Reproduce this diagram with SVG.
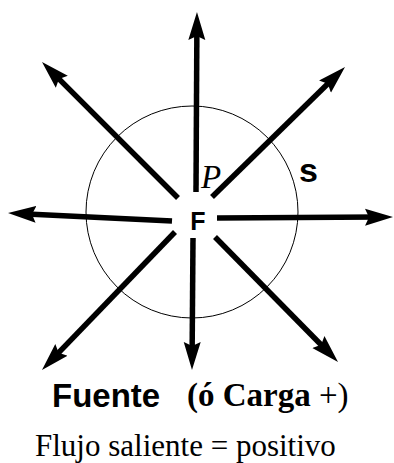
<svg xmlns="http://www.w3.org/2000/svg" width="394" height="463" viewBox="0 0 394 463">
<style>
.arrow{stroke:#000;stroke-width:5.5;fill:none;marker-end:url(#head)}
.sans{font-family:"Liberation Sans",Arial,sans-serif;font-weight:bold;fill:#000}
.serif{font-family:"Liberation Serif","Times New Roman",serif;fill:#000}
</style>
<defs>
<marker id="head" markerUnits="userSpaceOnUse" markerWidth="30" markerHeight="20" viewBox="0 -10 30 20" refX="14" refY="0" orient="auto">
<path d="M28,0 L0,-8.5 L4,0 L0,8.5 Z" fill="#000"/>
</marker>
</defs>
<rect width="394" height="463" fill="#fff"/>
<g id="surface-s">
<circle cx="192" cy="212" r="106" fill="none" stroke="#000" stroke-width="1"/>
</g>
<g id="connectors">
<line class="arrow" x1="196" y1="192" x2="196.9" y2="26"/>
<line class="arrow" x1="193" y1="238" x2="192.1" y2="356"/>
<line class="arrow" x1="172" y1="221" x2="22" y2="213.7"/>
<line class="arrow" x1="217" y1="218" x2="379" y2="217.1"/>
<line class="arrow" x1="178" y1="198" x2="51.9" y2="71.9"/>
<line class="arrow" x1="212" y1="197" x2="335" y2="76.8"/>
<line class="arrow" x1="175" y1="232" x2="51.7" y2="359.9"/>
<line class="arrow" x1="215" y1="237" x2="328.2" y2="352"/>
</g>
<g id="node-F">
<text class="sans" x="198" y="230" font-size="25" text-anchor="middle">F</text>
</g>
<g id="label-P">
<text class="serif" x="201" y="188" font-size="33" font-style="italic">P</text>
</g>
<g id="label-s">
<text class="sans" x="299" y="182" font-size="34">s</text>
</g>
<g id="caption">
<text class="sans" x="52" y="407" font-size="33">Fuente</text>
<text class="serif" x="187" y="406" font-size="33"><tspan font-weight="bold">(ó Carga </tspan>+)</text>
<text class="serif" x="35" y="456" font-size="31">Flujo saliente = positivo</text>
</g>
</svg>
